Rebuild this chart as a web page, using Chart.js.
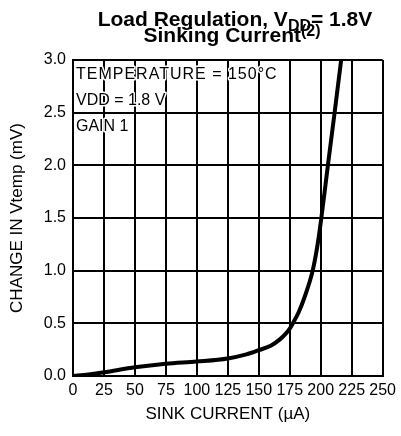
<!DOCTYPE html>
<html>
<head>
<meta charset="utf-8">
<script src="https://cdn.jsdelivr.net/npm/chart.js@4.4.1/dist/chart.umd.min.js"></script>
<style>
html,body{margin:0;padding:0;background:#fff;}
#wrap{position:relative;width:401px;height:436px;}
</style>
</head>
<body>
<div id="wrap"><canvas id="c" width="401" height="436"></canvas></div>
<script>
// ---- data ----
const sinkCurrent = [0, 12.5, 25, 50, 75, 100, 125, 140, 150, 160, 167, 172, 175, 177.5, 182, 187, 193.5, 197.5, 200.5, 205.8, 211.2, 216.5];
const deltaVtemp  = [0, 0.015, 0.035, 0.083, 0.117, 0.138, 0.167, 0.205, 0.245, 0.29, 0.348, 0.405, 0.45, 0.5, 0.6, 0.75, 1.0, 1.25, 1.5, 2.0, 2.5, 3.0];
const xTickValues = [0, 25, 50, 75, 100, 125, 150, 175, 200, 225, 250];
const yTickLabels = ['0.0', '0.5', '1.0', '1.5', '2.0', '2.5', '3.0'];
const annotations = ['TEMPERATURE = 150°C', 'VDD = 1.8 V', 'GAIN 1'];

const FONT = '"Liberation Sans", Arial, Helvetica, sans-serif';

const points = sinkCurrent.map((x, i) => ({x: x, y: deltaVtemp[i]}));

const overlay = {
  id: 'overlay',
  afterDatasetsDraw(chart) {
    const ctx = chart.ctx;
    const area = chart.chartArea;
    ctx.save();
    ctx.font = '16px ' + FONT;
    ctx.textAlign = 'left';
    ctx.textBaseline = 'alphabetic';
    ctx.lineJoin = 'round';
    annotations.forEach((t, i) => {
      const y = area.top + 19 + i * 26;
      ctx.letterSpacing = i === 0 ? '1px' : '0px';
      ctx.strokeStyle = '#fff';
      ctx.lineWidth = 3;
      ctx.strokeText(t, area.left + 3, y);
      ctx.fillStyle = '#000';
      ctx.fillText(t, area.left + 3, y);
    });
    ctx.letterSpacing = '0px';
    ctx.restore();
  },
  afterDraw(chart) {
    const ctx = chart.ctx;
    ctx.save();
    ctx.fillStyle = '#000';
    ctx.textBaseline = 'alphabetic';
    ctx.textAlign = 'left';
    const big = 'bold 21px ' + FONT, small = 'bold 16px ' + FONT;
    const parts1 = [['Load Regulation, V', big, 0], ['DD', small, 5], ['= 1.8V', big, 0]];
    let w = 0;
    parts1.forEach(p => { ctx.font = p[1]; w += ctx.measureText(p[0]).width; });
    let x = 235 - w / 2;
    parts1.forEach(p => { ctx.font = p[1]; ctx.fillText(p[0], x, 26 + p[2]); x += ctx.measureText(p[0]).width; });
    const parts2 = [['Sinking Current', big, 0], ['(2)', small, -6]];
    w = 0;
    parts2.forEach(p => { ctx.font = p[1]; w += ctx.measureText(p[0]).width; });
    x = 232 - w / 2;
    parts2.forEach(p => { ctx.font = p[1]; ctx.fillText(p[0], x, 42 + p[2]); x += ctx.measureText(p[0]).width; });
    ctx.restore();
  }
};

new Chart(document.getElementById('c'), {
  type: 'line',
  data: {
    datasets: [{
      data: points,
      borderColor: '#000',
      borderWidth: 4,
      pointRadius: 0,
      fill: false,
      cubicInterpolationMode: 'monotone'
    }]
  },
  options: {
    responsive: false,
    animation: false,
    devicePixelRatio: 1,
    layout: { padding: { top: 60, right: 18, left: 0, bottom: 0 } },
    plugins: { legend: { display: false }, tooltip: { enabled: false }, title: { display: false } },
    scales: {
      x: {
        type: 'linear',
        min: 0, max: 250,
        afterBuildTicks(scale) { scale.ticks = xTickValues.map(v => ({value: v})); },
        afterFit(scale) { scale.height = 60; },
        grid: { color: '#000', lineWidth: 2, drawTicks: false },
        border: { color: '#000', width: 2 },
        ticks: {
          color: '#000', padding: 5, maxRotation: 0, autoSkip: false,
          font: { family: FONT, size: 16 },
          callback: v => String(v)
        },
        title: {
          display: true, text: 'SINK CURRENT (µA)', color: '#000',
          font: { family: FONT, size: 17 },
          padding: { top: 0, bottom: 11 }
        }
      },
      y: {
        type: 'linear',
        min: 0, max: 3,
        afterBuildTicks(scale) { scale.ticks = yTickLabels.map(l => ({value: parseFloat(l)})); },
        afterFit(scale) { scale.width = 73; },
        grid: { color: '#000', lineWidth: 2, drawTicks: false },
        border: { color: '#000', width: 2 },
        ticks: {
          color: '#000', padding: 7, autoSkip: false,
          font: { family: FONT, size: 16 },
          callback: v => yTickLabels[Math.round(v * 2)]
        },
        title: {
          display: true, text: 'CHANGE IN Vtemp (mV)', color: '#000',
          font: { family: FONT, size: 17 },
          padding: { top: 7, bottom: 0 }
        }
      }
    }
  },
  plugins: [overlay]
});
</script>
</body>
</html>
